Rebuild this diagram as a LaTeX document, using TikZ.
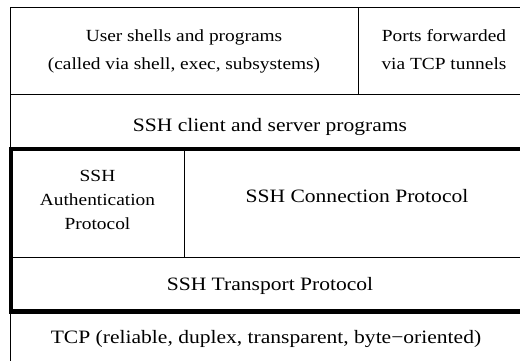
\documentclass[tikz,border=0pt]{standalone}
\usepackage{fontspec}
\setmainfont[FakeStretch=1.14]{Liberation Serif}
\begin{document}
\begin{tikzpicture}[x=1pt,y=-1pt,
  thin rule/.style={line width=0.9pt,draw=black},
  thick rule/.style={line width=4.5pt,draw=black},
  big label/.style={anchor=base,inner sep=0pt,font=\fontsize{18.9}{22}\selectfont},
  small label/.style={anchor=base,inner sep=0pt,font=\fontsize{17}{20}\selectfont}]
\useasboundingbox (0,0) rectangle (520,360);
\clip (0,0) rectangle (520,360);
% outer frame and cell rules
\draw[thin rule] (10,370) -- (10,7.5) -- (540,7.5);
\draw[thin rule] (10,94) -- (540,94);
\draw[thin rule] (358,7.5) -- (358,94);
% protocol block
\draw[thick rule] (540,149) -- (11,149) -- (11,311.5) -- (540,311.5);
\draw[thin rule] (184,149) -- (184,257);
\draw[thin rule] (11,257) -- (540,257);
% labels
\node[small label] (apps1) at (184,41) {User shells and programs};
\node[small label] (apps2) at (184,69) {(called via shell, exec, subsystems)};
\node[small label] (ports1) at (444,41) {Ports forwarded};
\node[small label] (ports2) at (444,69) {via TCP tunnels};
\node[big label] (progs) at (270,131.7) {SSH client and server programs};
\node[small label] (auth1) at (97.5,181.7) {SSH};
\node[small label] (auth2) at (97.5,205) {Authentication};
\node[small label] (auth3) at (97.5,229) {Protocol};
\node[big label] (conn) at (357,202.3) {SSH Connection Protocol};
\node[big label] (trans) at (270,290) {SSH Transport Protocol};
\node[big label] (tcp) at (266,343) {TCP (reliable, duplex, transparent, byte−oriented)};
\end{tikzpicture}
\end{document}
